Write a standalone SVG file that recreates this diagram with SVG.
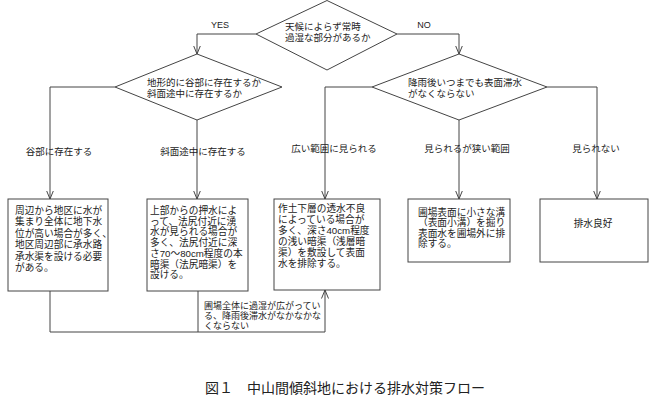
<svg xmlns="http://www.w3.org/2000/svg" width="650" height="410" viewBox="0 0 650 410">
<style>
.shape{fill:#fff;stroke:#444;stroke-width:1}
.line{fill:none;stroke:#444;stroke-width:1}
.t{font-family:"Liberation Sans","Noto Sans CJK JP",sans-serif;fill:#222}
.d{font-size:9.5px}
.b{font-size:9.7px}
.n{font-size:9px}
.lat{font-family:"Liberation Sans",Arial,sans-serif;font-size:9px;fill:#222}
.cap{font-family:"Liberation Serif","Noto Sans CJK JP",serif;font-size:14px;fill:#222}
</style>
<defs>
<marker id="arr" viewBox="0 0 9 8" refX="8.5" refY="4" markerWidth="9" markerHeight="8" markerUnits="userSpaceOnUse" orient="auto">
<path d="M0,0.5 L8.5,4 L0,7.5" fill="none" stroke="#444" stroke-width="1"/>
</marker>
</defs>
<rect width="650" height="410" fill="#fff"/>
<g id="connectors">
<path class="line" d="M256,34 H197 V54" marker-end="url(#arr)"/>
<path class="line" d="M397,34 H459 V54" marker-end="url(#arr)"/>
<path class="line" d="M115,87 H50 V199" marker-end="url(#arr)"/>
<path class="line" d="M197,120 V199" marker-end="url(#arr)"/>
<path class="line" d="M372,87 H325 V199" marker-end="url(#arr)"/>
<path class="line" d="M459,120 V199" marker-end="url(#arr)"/>
<path class="line" d="M547,87 H597 V199" marker-end="url(#arr)"/>
<path class="line" d="M50,291 V332 H325 V290" marker-end="url(#arr)"/>
<path class="line" d="M198,291 V332"/>
<text class="lat" x="220" y="28" text-anchor="middle">YES</text>
<text class="lat" x="424" y="28" text-anchor="middle">NO</text>
<text class="t d" x="59" y="155" text-anchor="middle">谷部に存在する</text>
<text class="t d" x="203" y="155" text-anchor="middle">斜面途中に存在する</text>
<text class="t d" x="334" y="152" text-anchor="middle">広い範囲に見られる</text>
<text class="t d" x="467" y="152" text-anchor="middle">見られるが狭い範囲</text>
<text class="t d" x="596" y="152" text-anchor="middle">見られない</text>
<text class="t n" x="204" y="308.5">圃場全体に過湿が広がってい<tspan x="204" dy="10">る、降雨後滞水がなかなかな</tspan><tspan x="204" dy="10">くならない</tspan></text>
</g>
<g id="q1">
<polygon class="shape" points="327,0.5 397,34 327,70 256,34"/>
<text class="t d" x="285" y="29.5">天候によらず常時<tspan x="285" dy="11">過湿な部分があるか</tspan></text>
</g>
<g id="q2">
<polygon class="shape" points="197,54 282,87 197,120 115,87"/>
<text class="t d" x="147" y="86">地形的に谷部に存在するか<tspan x="147" dy="11">斜面途中に存在するか</tspan></text>
</g>
<g id="q3">
<polygon class="shape" points="459,54 547,87 459,120 372,87"/>
<text class="t d" x="408" y="86">降雨後いつまでも表面滞水<tspan x="408" dy="11">がなくならない</tspan></text>
</g>
<g id="box1">
<rect class="shape" x="8" y="199" width="100" height="92"/>
<text class="t b" x="15" y="214">周辺から地区に水が<tspan x="15" dy="11.4">集まり全体に地下水</tspan><tspan x="15" dy="11.4">位が高い場合が多く、</tspan><tspan x="15" dy="11.4">地区周辺部に承水路</tspan><tspan x="15" dy="11.4">承水渠を設ける必要</tspan><tspan x="15" dy="11.4">がある。</tspan></text>
</g>
<g id="box2">
<rect class="shape" x="147" y="199" width="101" height="92"/>
<text class="t b" x="150" y="214">上部からの押水によ<tspan x="150" dy="10.7">って、法尻付近に湧</tspan><tspan x="150" dy="10.7">水が見られる場合が</tspan><tspan x="150" dy="10.7">多く、法尻付近に深</tspan><tspan x="150" dy="10.7">さ70～80cm程度の本</tspan><tspan x="150" dy="10.7">暗渠（法尻暗渠）を</tspan><tspan x="150" dy="10.7">設ける。</tspan></text>
</g>
<g id="box3">
<rect class="shape" x="274" y="199" width="106" height="91"/>
<text class="t b" x="278" y="212">作土下層の透水不良<tspan x="278" dy="11">によっている場合が</tspan><tspan x="278" dy="11">多く、深さ40cm程度</tspan><tspan x="278" dy="11">の浅い暗渠（浅層暗</tspan><tspan x="278" dy="11">渠）を敷設して表面</tspan><tspan x="278" dy="11">水を排除する。</tspan></text>
</g>
<g id="box4">
<rect class="shape" x="408" y="199" width="102" height="63"/>
<text class="t b" x="418" y="215.5">圃場表面に小さな溝<tspan x="418" dy="10.6">（表面小溝）を掘り</tspan><tspan x="418" dy="10.6">表面水を圃場外に排</tspan><tspan x="418" dy="10.6">除する。</tspan></text>
</g>
<g id="box5">
<rect class="shape" x="540" y="199" width="108" height="63"/>
<text class="t b" x="593" y="227" text-anchor="middle">排水良好</text>
</g>
<g id="caption">
<text class="cap" x="205" y="393">図１　中山間傾斜地における排水対策フロー</text>
</g>
</svg>
